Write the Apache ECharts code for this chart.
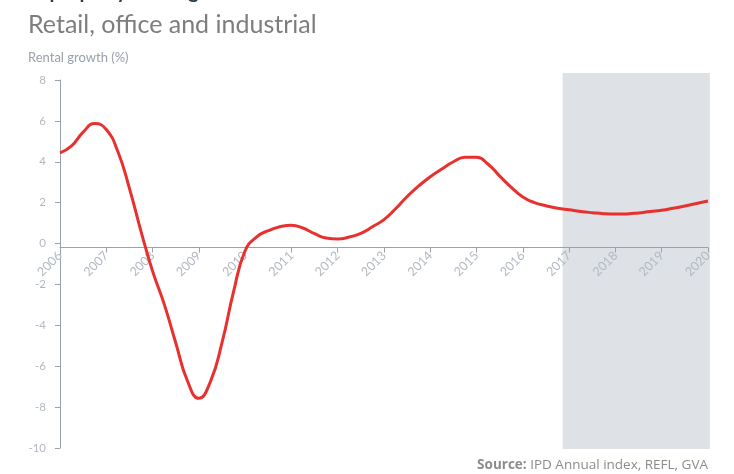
<!DOCTYPE html>
<html>
<head>
<meta charset="utf-8">
<script src="https://cdn.jsdelivr.net/npm/echarts@6/dist/echarts.min.js"></script>
<style>
  html, body { margin: 0; padding: 0; background: #ffffff; }
  #chart { width: 734px; height: 474px; }
</style>
</head>
<body>
<div id="chart"></div>
<script>
// ---- Data (quarter-year readings) ----
const yearPositions = [
  2006.00, 2006.25, 2006.50, 2006.75, 2007.00, 2007.25, 2007.50, 2007.75,
  2008.00, 2008.25, 2008.50, 2008.75, 2009.00, 2009.25, 2009.50, 2009.75,
  2010.00, 2010.25, 2010.50, 2010.75, 2011.00, 2011.25, 2011.50, 2011.75,
  2012.00, 2012.25, 2012.50, 2012.75, 2013.00, 2013.25, 2013.50, 2013.75,
  2014.00, 2014.25, 2014.50, 2014.75, 2015.00, 2015.25, 2015.50, 2015.75,
  2016.00, 2016.25, 2016.50, 2016.75, 2017.00, 2017.25, 2017.50, 2017.75,
  2018.00, 2018.25, 2018.50, 2018.75, 2019.00, 2019.25, 2019.50, 2019.75,
  2020.00];
const rentalGrowth = [
  4.44, 4.78, 5.45, 5.87, 5.58, 4.50, 2.70, 0.60,
  -1.35, -2.95, -4.85, -6.70, -7.57, -6.75, -4.85, -2.35,
  -0.35, 0.33, 0.63, 0.82, 0.90, 0.76, 0.48, 0.27,
  0.22, 0.32, 0.50, 0.82, 1.17, 1.70, 2.30, 2.82,
  3.27, 3.65, 4.00, 4.22, 4.22, 3.88, 3.30, 2.75,
  2.28, 2.00, 1.85, 1.73, 1.65, 1.57, 1.51, 1.46,
  1.44, 1.45, 1.50, 1.57, 1.63, 1.73, 1.84, 1.96,
  2.08];
const yTickValues = [-10, -8, -6, -4, -2, 0, 2, 4, 6, 8];
const xTickYears = [2006, 2007, 2008, 2009, 2010, 2011, 2012, 2013, 2014, 2015, 2016, 2017, 2018, 2019, 2020];
// forecast (shaded) period: [start year, end year, top value, bottom value]
const forecastShade = [[2016.86, 2020.04, 8.34, -10.05]];

const titleText = 'UK property rental growth';
const subtitleText = 'Retail, office and industrial';
const yAxisTitle = 'Rental growth (%)';
const sourceLabel = 'Source:';
const sourceText = 'IPD Annual index, REFL, GVA';

const chart = echarts.init(document.getElementById('chart'), null, { renderer: 'canvas' });
const axisColor = '#9aa2ac';
const labelColor = '#b1b8c1';
const font = 'Lato';

chart.setOption({
  animation: false,
  backgroundColor: '#ffffff',
  textStyle: { fontFamily: font },
  title: [
    { text: titleText, left: 16, top: -18, padding: 0,
      textStyle: { fontFamily: font, fontWeight: 'bold', fontSize: 20, color: '#2b3d4f' } },
    { text: subtitleText, left: 28, top: 12, padding: 0,
      textStyle: { fontFamily: font, fontWeight: 'normal', fontSize: 25, color: '#7d7d7d' } },
    { text: yAxisTitle, left: 28, top: 51, padding: 0,
      textStyle: { fontFamily: font, fontWeight: 'normal', fontSize: 13, color: '#98a1ac' } },
    { text: '{b|' + sourceLabel + '} ' + sourceText, right: 26, top: 458, padding: 0,
      textStyle: { fontFamily: 'Open Sans', fontWeight: 'normal', fontSize: 13.5, color: '#8c8c8c',
        rich: { b: { fontFamily: 'Open Sans', fontWeight: 'bold', fontSize: 13.5, color: '#8c8c8c' } } } }
  ],
  grid: { left: 60, right: 26, top: 80, bottom: 26, containLabel: false },
  xAxis: {
    type: 'value', min: xTickYears[0], max: xTickYears[xTickYears.length - 1], interval: 1, z: 2,
    axisLine: { onZero: false, lineStyle: { color: axisColor, width: 1 } },
    axisTick: { show: true, length: 5, lineStyle: { color: axisColor } },
    axisLabel: { rotate: 45, margin: 6, color: labelColor, fontSize: 12.5, fontFamily: font,
      showMinLabel: true, showMaxLabel: true, formatter: v => String(v) },
    splitLine: { show: false }
  },
  yAxis: {
    type: 'value', min: yTickValues[0], max: yTickValues[yTickValues.length - 1], interval: 2, z: 2,
    axisLine: { show: true, lineStyle: { color: axisColor, width: 1 } },
    axisTick: { show: true, length: 5, lineStyle: { color: axisColor } },
    axisLabel: { margin: 14, color: labelColor, fontSize: 11.5, fontFamily: font },
    splitLine: { show: false }
  },
  series: [
    { type: 'custom', z: 1, silent: true, clip: false,
      data: forecastShade,
      encode: { x: [0, 1], y: [2, 3] },
      renderItem: function (params, api) {
        const p0 = api.coord([api.value(0), api.value(2)]);
        const p1 = api.coord([api.value(1), api.value(3)]);
        return { type: 'rect',
          shape: { x: p0[0], y: p0[1], width: p1[0] - p0[0], height: p1[1] - p0[1] },
          style: { fill: '#dee1e5' } };
      } },
    { type: 'line', z: 3, clip: false,
      data: yearPositions.map((x, i) => [x, rentalGrowth[i]]),
      smooth: 0.5, showSymbol: false,
      lineStyle: { color: '#e8302f', width: 3 } }
  ]
});

// place the year axis on the zero line, using the chart's own y scale
const zeroPx = chart.convertToPixel({ yAxisIndex: 0 }, 0);
const bottomPx = chart.convertToPixel({ yAxisIndex: 0 }, yTickValues[0]);
chart.setOption({ xAxis: { offset: zeroPx - bottomPx } });
</script>
</body>
</html>
